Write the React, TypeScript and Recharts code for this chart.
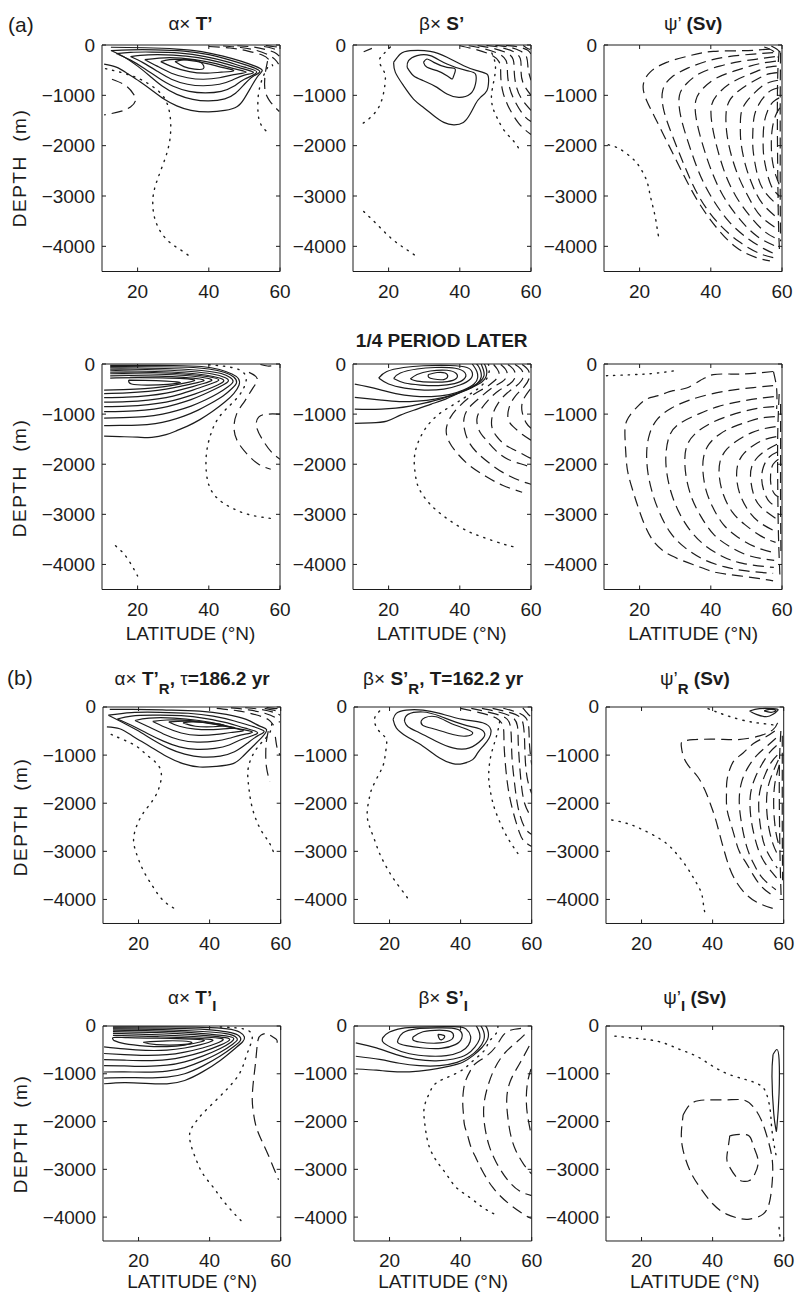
import React from "react";
import { ScatterChart, Scatter, XAxis, YAxis, ReferenceArea } from "recharts";

type Pt = [number, number]; // [latitude °N, depth m]

// ---------- (a) alpha x T' ----------
const tA_solid: Pt[][] = [
  [[10.6,-380],[14,-440],[17,-560],[20.5,-720],[24,-900],[27.5,-1080],[31,-1210],[35,-1300],[40,-1330],[44.5,-1300],[48,-1220],[50,-1060],[52,-820],[54,-600],[55,-500],[53,-420],[49,-320],[44,-220],[38,-130],[31,-80],[22,-55],[12.5,-45]],
  [[12.5,-110],[16,-230],[20,-420],[23.5,-620],[27,-820],[31,-980],[35.5,-1080],[40,-1110],[44.5,-1070],[47.5,-960],[50,-780],[52.5,-620],[54.3,-520],[51,-410],[46,-300],[40,-190],[33,-120],[25,-95],[18,-95],[12.5,-110]],
  [[14,-170],[18,-300],[22,-470],[26,-660],[30,-820],[34.5,-920],[39,-950],[43.5,-920],[47,-820],[50,-680],[53.5,-540],[50,-440],[45,-330],[39,-230],[32,-160],[24,-140],[18,-145],[14,-170]],
  [[18,-230],[21.5,-350],[25.5,-520],[29.5,-680],[34,-780],[38.5,-810],[43,-780],[46.5,-700],[50,-600],[52.5,-540],[48.5,-450],[43,-340],[37,-250],[30,-200],[23,-195],[18,-230]],
  [[22,-290],[25.5,-420],[29.5,-560],[34,-650],[38.5,-680],[43,-650],[47,-590],[50.5,-540],[47,-470],[42,-370],[36,-290],[29,-250],[22,-290]],
  [[26.5,-330],[30,-440],[34.5,-530],[39,-560],[43.5,-540],[47,-510],[44,-450],[39.5,-370],[34,-300],[29,-290],[26.5,-330]],
  [[30.5,-330],[33,-290],[36,-300],[38,-360],[38.5,-470],[36,-480],[33,-430],[30.5,-330]],
];
const tA_dash: Pt[][] = [
  [[12.8,-680],[16.5,-800],[18.8,-970],[19.4,-1110],[18,-1230],[15.2,-1320],[10.6,-1390]],
  [[40,-30],[46,-60],[51,-120],[55,-200],[57,-300],[58,-420]],
  [[44,-20],[49,-50],[53.5,-110],[56.5,-190],[58.5,-280],[59.6,-380]],
  [[48,-15],[52.5,-40],[56,-90],[58.5,-150],[59.8,-220]],
  [[55.5,-30],[57.5,-60],[59,-90],[59.8,-80]],
  [[56,-10],[58,-30],[59.5,-40]],
  [[56.5,-320],[55.8,-600],[55.8,-900],[57,-1100],[58.5,-1230],[59.8,-1320]],
];
const tA_dot: Pt[][] = [
  [[11,-470],[14,-520],[17.5,-590],[21,-690],[24.5,-840],[27.5,-1050],[29,-1350],[29.3,-1700],[28.6,-2050],[27,-2400],[25.2,-2750],[24.3,-3050],[24.6,-3380],[26.2,-3680],[29,-3920],[32.3,-4080],[35,-4220]],
  [[56.5,-450],[55.2,-640],[54,-950],[53.8,-1300],[54.2,-1500],[55.2,-1640],[57,-1760]],
];

// ---------- (a) beta x S' ----------
const sA_solid: Pt[][] = [
  [[21.4,-345],[23.3,-179],[26.1,-113],[31.7,-126],[36.4,-245],[41.1,-411],[44.8,-510],[47.6,-577],[48.1,-709],[47.6,-908],[45.8,-1041],[44.4,-1173],[42.9,-1372],[41,-1538],[38.3,-1585],[35.5,-1538],[32.7,-1406],[29.8,-1240],[27,-1074],[24.2,-809],[21.9,-544],[21.4,-345]],
  [[25.2,-444],[25.6,-312],[28,-212],[31.7,-212],[36.4,-378],[42,-510],[44.4,-577],[44.4,-776],[42.9,-975],[39.7,-1041],[36.4,-975],[33.6,-842],[29.8,-709],[27,-610],[25.2,-444]],
  [[29.8,-345],[30.8,-278],[32.7,-345],[36.4,-444],[38.7,-477],[38.3,-610],[37.8,-676],[36.4,-610],[33.6,-510],[30.8,-444],[29.8,-345]],
  [[13,-133],[15.3,-66]],
];
const sA_dash: Pt[][] = [
  [[40,-15],[44,-80],[48,-170],[51,-330],[51.5,-600],[52,-900],[53.5,-1200],[56.5,-1550],[60,-1780]],
  [[42.5,-15],[46.5,-70],[50.5,-160],[53,-310],[53.4,-570],[54,-850],[55.5,-1120],[58,-1400],[60,-1520]],
  [[45,-12],[49,-60],[53,-150],[55,-290],[55.3,-540],[55.8,-800],[57.2,-1050],[60,-1300]],
  [[47.5,-10],[51.5,-50],[55,-130],[57,-270],[57.2,-510],[57.8,-760],[60,-1000]],
  [[50,-8],[54,-45],[57,-120],[58.8,-250],[59.2,-480],[60,-700]],
  [[53,-8],[56.5,-40],[59,-100],[60,-180]],
  [[57.8,-10],[58.8,-60],[59.8,-90]],
];
const sA_dot: Pt[][] = [
  [[20.5,-40],[18.3,-200],[17.4,-330],[18.5,-500],[19.1,-650],[18.6,-950],[17.2,-1240],[14.9,-1440],[12.5,-1571]],
  [[13,-3308],[16.7,-3560],[20.5,-3826],[24.2,-4024],[28.4,-4223]],
  [[49,-160],[50,-400],[49.6,-700],[48.9,-1000],[49.3,-1250],[50.5,-1450],[52.5,-1700],[55,-1900],[57,-2102]],
];

// ---------- (a) psi' ----------
const psiA_dash: Pt[][] = [
  [[56.6,-80],[49.1,-113],[40.7,-126],[34.1,-212],[27.6,-345],[22.9,-544],[21,-809],[22,-1107],[24.3,-1439],[27.1,-1837],[29.9,-2234],[33.2,-2698],[36.9,-3163],[41.6,-3627],[47.2,-4024],[52.8,-4223],[56.6,-4290]],
  [[57.5,-150],[52,-180],[45,-230],[39,-320],[33.5,-460],[29,-640],[26.5,-900],[26.8,-1300],[29.2,-1800],[32.6,-2400],[36.6,-3000],[41.6,-3500],[47.8,-3900],[54,-4150],[58,-4230]],
  [[58,-230],[53,-280],[48,-330],[42.5,-420],[37,-560],[33.3,-760],[31.2,-1000],[31.5,-1400],[33.5,-1900],[36.5,-2500],[40,-3000],[45,-3500],[50.5,-3850],[55,-4050],[58,-4150]],
  [[58.3,-320],[54.5,-360],[51,-420],[46.5,-520],[41.5,-660],[38,-850],[35.8,-1100],[36,-1500],[37.8,-2000],[40.2,-2500],[43.5,-3000],[48,-3450],[53,-3800],[58.3,-4000]],
  [[58.5,-420],[55.5,-450],[53,-520],[49.5,-620],[45.5,-760],[42.3,-950],[40.2,-1200],[40.4,-1600],[41.8,-2050],[44,-2550],[47,-3000],[51,-3400],[55,-3700],[58.5,-3850]],
  [[58.7,-550],[56,-580],[53.5,-660],[50.5,-780],[47.5,-930],[45.3,-1100],[44.3,-1350],[44.5,-1750],[45.8,-2200],[48,-2650],[50.8,-3050],[54,-3400],[58.7,-3650]],
  [[58.9,-700],[56.5,-740],[54.2,-830],[52,-970],[50,-1130],[48.6,-1330],[48.3,-1600],[48.5,-1950],[49.8,-2400],[51.8,-2800],[54.5,-3150],[58.9,-3450]],
  [[59,-850],[57,-900],[55.2,-1010],[53.5,-1180],[52.2,-1420],[51.8,-1750],[51.9,-2100],[53,-2550],[55,-2900],[59,-3200]],
  [[59.2,-1050],[57.5,-1130],[56,-1300],[55,-1550],[54.7,-1850],[54.8,-2150],[55.5,-2450],[57,-2800],[59.2,-3000]],
  [[59.4,-1250],[58.2,-1400],[57.3,-1650],[57,-1950],[57.3,-2300],[58.3,-2600],[59.4,-2800]],
  [[59.2,-120],[58.8,-600],[58.7,-1500],[58.8,-2500],[59,-3500],[59.3,-4100]],
  [[59.6,-150],[59.5,-1000],[59.5,-2000],[59.5,-3000],[59.6,-3900]],
  [[55,-40],[57.5,-120],[59,-250]],
  [[57,-20],[58.5,-80],[59.6,-150]],
];
const psiA_dot: Pt[][] = [
  [[11.2,-1982],[13.6,-2035],[15.9,-2135],[18.2,-2267],[20.1,-2433],[22,-2698],[22.9,-2964],[23.8,-3229],[24.6,-3494],[25.2,-3759],[25.7,-3892]],
];

// ---------- 1/4 period later: T ----------
const tB_solid: Pt[][] = [
  [[10.6,-1440],[15,-1450],[20,-1460],[24,-1465],[28,-1410],[31,-1330],[34,-1240],[37.5,-1110],[41,-950],[44.5,-760],[47,-590],[48.5,-420],[48.3,-290],[46.5,-200],[43,-110],[38,-50],[30,-30],[20,-28],[12.3,-28]],
  [[10.6,-1230],[15,-1225],[20,-1220],[25,-1190],[29,-1130],[33,-1040],[37,-920],[40.5,-790],[44,-640],[46.5,-490],[47.8,-370],[47,-260],[44.5,-170],[40,-100],[34,-65],[25,-55],[16,-52],[12.3,-52]],
  [[10.6,-1080],[16,-1070],[22,-1050],[27,-1000],[31,-930],[35,-840],[39,-720],[42.5,-590],[45.3,-460],[46.8,-350],[46,-270],[43.5,-190],[38,-130],[30,-95],[20,-80],[12.3,-78]],
  [[10.6,-950],[16,-945],[22,-920],[27,-870],[31,-800],[35,-710],[38.5,-610],[41.5,-510],[44,-420],[45.5,-340],[44.5,-270],[41,-200],[35,-150],[27,-120],[18,-105],[12.3,-105]],
  [[10.6,-850],[17,-840],[23,-810],[28,-760],[32,-690],[36,-600],[39.5,-510],[42.5,-420],[44.2,-340],[43,-280],[39,-220],[33,-175],[25,-150],[16,-135],[12.3,-135]],
  [[10.6,-760],[17,-750],[23,-720],[28,-670],[32,-600],[35.5,-520],[38.8,-440],[41.5,-370],[42.8,-320],[41,-270],[36,-220],[29,-185],[20,-165],[12.3,-165]],
  [[10.6,-670],[17,-660],[23,-630],[28,-580],[32,-515],[35.5,-450],[38.5,-390],[40.8,-330],[39.5,-285],[35,-240],[28,-210],[19,-195],[12.3,-195]],
  [[10.6,-590],[17,-575],[23,-545],[28,-500],[32,-445],[35.5,-390],[38.5,-340],[37.5,-300],[33,-265],[26,-240],[18,-230],[12.3,-235]],
  [[10.6,-520],[16,-510],[22,-490],[27,-455],[31,-410],[34.5,-360],[36,-320],[33,-290],[27,-275],[20,-270],[14,-275],[12.3,-280]],
  [[17.5,-320],[18.3,-400],[23,-420],[28.5,-405],[32,-370],[28,-340],[22,-325],[17.5,-320]],
];
const tB_dash: Pt[][] = [
  [[51.3,-167],[53.6,-290],[52.2,-500],[50,-750],[47.8,-1000],[47.1,-1300],[48.2,-1560],[50.8,-1800],[54,-2000],[57.4,-2100]],
  [[60,-1000],[56.5,-1000],[54,-1060],[53.4,-1250],[55,-1500],[57.5,-1750],[60,-1900]],
  [[54.5,-10],[56.5,-40],[58.5,-30]],
];
const tB_dot: Pt[][] = [
  [[40,-15],[45,-50],[49,-130],[50.5,-280],[50,-450],[48.6,-620],[46,-820],[43,-1050],[40.8,-1350],[39.4,-1750],[39.3,-2150],[40.2,-2450],[42.4,-2680],[46.1,-2860],[50.8,-2996],[55.5,-3062],[58.8,-3095]],
  [[13.8,-3628],[15.8,-3760],[17.5,-3920],[19,-4100],[20,-4230]],
];

// ---------- 1/4 period later: S ----------
const sB_solid: Pt[][] = [
  [[31.2,-210],[33.6,-170],[35.9,-180],[36.6,-250],[35.5,-310],[32.7,-300],[31.2,-260],[31.2,-210]],
  [[26.1,-300],[28,-210],[31.7,-140],[36.4,-125],[39,-190],[39,-290],[36.5,-350],[32,-360],[28,-340],[26.1,-300]],
  [[21.4,-290],[23.3,-180],[28,-100],[33.1,-70],[38.7,-85],[41.5,-180],[41.2,-300],[38.5,-390],[34,-430],[29,-420],[24.5,-380],[21.4,-290]],
  [[17.2,-280],[19.5,-150],[24.2,-70],[29.8,-35],[37.3,-30],[42,-70],[43.5,-170],[43,-300],[40,-420],[35.5,-500],[30,-520],[24.5,-480],[20,-400],[17.2,-280]],
  [[10.5,-400],[14,-450],[18,-520],[22,-590],[27,-640],[32,-650],[37,-610],[41,-520],[44,-400],[45,-280],[44.8,-150],[44,-50],[43.5,0]],
  [[10.5,-666],[14,-690],[18,-720],[23,-750],[28,-740],[33,-700],[38,-620],[42,-520],[44.8,-400],[46,-260],[45.8,-130],[45.2,-40],[44.7,0]],
  [[10.5,-899],[14,-905],[18,-900],[22,-880],[26,-840],[30,-780],[34.5,-700],[39,-590],[43,-470],[45.7,-350],[46.8,-230],[46.6,-110],[46,0]],
  [[10.5,-1185],[15,-1175],[19.5,-1140],[23.3,-1020],[28,-900],[32,-800],[36,-700],[41,-540],[44.8,-420],[47,-300],[47.6,-170],[47.3,-60],[46.9,0]],
];
const sB_dash: Pt[][] = [
  [[49.5,-10],[50.5,-100],[51,-220],[49.5,-350],[47,-480],[43,-650],[39.8,-850],[37.5,-1050],[36.2,-1300],[37,-1550],[39.5,-1800],[43,-2040],[47.5,-2250],[52,-2420],[57.5,-2560]],
  [[51.5,-10],[52.8,-100],[53.3,-230],[51.8,-360],[49,-480],[45.5,-680],[42.5,-880],[41.2,-1080],[41.3,-1300],[42.5,-1550],[45,-1780],[48.5,-1990],[52.5,-2180],[57,-2330],[60,-2400]],
  [[53.5,-10],[55,-100],[55.6,-250],[54,-400],[51,-530],[48,-720],[45.8,-920],[44.8,-1100],[45.4,-1320],[47.2,-1500],[50,-1720],[53.5,-1900],[57.5,-2000],[60,-2060]],
  [[55.5,-10],[57.2,-100],[57.8,-260],[56,-430],[53.3,-580],[50.8,-780],[49.2,-1020],[49,-1250],[50.2,-1430],[52.5,-1600],[55.5,-1720],[59,-1850],[60,-1880]],
  [[57.5,-10],[59.2,-120],[59.5,-280],[58,-460],[55.5,-650],[53.8,-880],[53.6,-1100],[55,-1250],[57.5,-1400],[60,-1520]],
  [[59.8,-500],[57.8,-720],[57.5,-950],[58.7,-1180],[60,-1280]],
];
const sB_dot: Pt[][] = [
  [[48,0],[48.3,-120],[47.5,-300],[45.5,-470],[42,-640],[38.5,-800],[34.5,-980],[31.5,-1180],[29.4,-1398],[27.8,-1664],[27.2,-1930],[27.5,-2197],[28.4,-2463],[30.8,-2729],[33.6,-2929],[37.3,-3129],[42,-3329],[46.7,-3462],[52.3,-3595],[56,-3661]],
];

// ---------- 1/4 period later: psi ----------
const psiB_dash: Pt[][] = [
  [[57.5,-150],[53,-180],[49.1,-200],[45.3,-200],[40.7,-213],[38.3,-280],[36.9,-333],[33.2,-479],[29.4,-533],[25.2,-632],[22,-699],[19.2,-865],[16.4,-1132],[15.9,-1465],[16.2,-1864],[16.8,-2197],[18.4,-2596],[20.6,-3062],[23.8,-3528],[29,-3828],[36,-4028],[41.6,-4161],[48.1,-4227],[54.7,-4294],[57.5,-4327]],
  [[57.5,-430],[52,-470],[46,-520],[40,-600],[34,-720],[29,-880],[25,-1100],[22.8,-1400],[22,-1750],[22.3,-2150],[23.5,-2550],[25.5,-2950],[28.5,-3350],[32.5,-3650],[38,-3900],[44,-4050],[50,-4130],[57.5,-4180]],
  [[57.7,-650],[53,-690],[48,-750],[42,-850],[36.5,-1000],[31,-1200],[28.3,-1450],[27.4,-1800],[27.6,-2150],[28.8,-2550],[31,-2950],[34,-3300],[38,-3600],[43,-3830],[49,-3980],[57.7,-4060]],
  [[57.8,-850],[53.5,-880],[49,-950],[44,-1060],[39.5,-1200],[35.5,-1400],[33.2,-1650],[32.7,-1950],[33.2,-2300],[34.8,-2700],[37.3,-3050],[40.8,-3400],[45.5,-3650],[51,-3830],[57.8,-3920]],
  [[58,-1050],[54,-1080],[50.5,-1150],[46.5,-1250],[42.5,-1400],[39.5,-1600],[38,-1850],[37.8,-2150],[38.6,-2500],[40.5,-2850],[43.5,-3200],[47.5,-3450],[52.5,-3650],[58,-3770]],
  [[58.2,-1250],[55,-1290],[51.5,-1370],[48,-1500],[44.5,-1700],[42.6,-1950],[42.4,-2250],[43.5,-2600],[46,-2950],[49.5,-3200],[54,-3430],[58.2,-3560]],
  [[58.4,-1450],[55.5,-1500],[52.5,-1600],[49.5,-1770],[47.6,-2000],[47.3,-2300],[48.2,-2600],[50.3,-2900],[53.5,-3150],[58.4,-3350]],
  [[58.6,-1600],[56,-1700],[53.3,-1850],[51.5,-2050],[51.2,-2300],[52,-2600],[54,-2850],[58.6,-3100]],
  [[58.8,-1750],[56.5,-1850],[54.8,-2050],[54.3,-2300],[55,-2550],[56.5,-2750],[58.8,-2850]],
  [[59,-1900],[57.5,-2000],[56.8,-2200],[57,-2450],[58,-2600],[59,-2650]],
  [[57.6,-150],[58.5,-500],[58.5,-900]],
  [[59.2,-600],[58.8,-1400],[58.8,-2400],[59,-3400],[59.4,-4200]],
  [[59.6,-800],[59.6,-1800],[59.6,-2800],[59.7,-3800]],
];
const psiB_dot: Pt[][] = [
  [[10.7,-233],[15,-222],[20,-207],[25,-180],[30.8,-125]],
];

// ---------- (b) T_R ----------
const tC_solid: Pt[][] = [
  [[11.1,-411],[14.7,-453],[18.4,-606],[23.1,-815],[27.8,-1024],[32.5,-1177],[37.2,-1247],[41.9,-1233],[46.6,-1177],[49.4,-1024],[52.2,-815],[55,-606],[56,-467],[54.1,-397],[50.3,-258],[44.7,-153],[37.2,-84],[27.8,-63],[18.4,-49],[11.9,-49]],
  [[11.5,-170],[15,-300],[19.5,-480],[24,-680],[28.5,-860],[33,-980],[38,-1040],[43,-1020],[47,-930],[50.5,-760],[53.5,-600],[55.3,-500],[52,-400],[47,-290],[41,-190],[34,-130],[26,-110],[18,-115],[11.5,-170]],
  [[14,-250],[18,-380],[22.5,-550],[27,-710],[31.5,-830],[36.5,-880],[41.5,-860],[45.5,-790],[49.5,-660],[53.5,-540],[50,-440],[45,-330],[39,-240],[32,-180],[24,-170],[18,-190],[14,-250]],
  [[19,-280],[22.5,-400],[27,-560],[31.5,-680],[36.5,-730],[41.5,-710],[45.5,-650],[49,-580],[52,-520],[48,-450],[43,-360],[37,-280],[30,-230],[23,-230],[19,-280]],
  [[24,-300],[27.5,-420],[32,-540],[37,-590],[42,-570],[46,-530],[49.5,-490],[45.5,-420],[40.5,-340],[34.5,-280],[28,-270],[24,-300]],
  [[28.5,-310],[31.5,-400],[36,-460],[41,-470],[45,-450],[47,-430],[43,-380],[38,-320],[33,-295],[28.5,-310]],
  [[32.5,-330],[35,-310],[40,-330],[44,-380],[41,-410],[36,-400],[32.5,-330]],
];
const tC_dash: Pt[][] = [
  [[42,-30],[48,-80],[53,-160],[56.5,-260],[58,-380]],
  [[46,-20],[51,-60],[55.5,-130],[58.5,-220],[59.7,-320]],
  [[50,-15],[54.5,-50],[58,-110],[59.8,-170]],
  [[55.5,-30],[57.5,-60],[59,-80]],
  [[56,-10],[58,-30],[59.5,-30]],
  [[56.5,-500],[56,-700],[55.8,-950],[56,-1250],[56.9,-1550]],
  [[58.5,-620],[59,-850],[59.8,-1000]],
];
const tC_dot: Pt[][] = [
  [[12.3,-571],[15.6,-676],[19.4,-815],[22.2,-989],[25,-1163],[26.4,-1372],[25.9,-1651],[24.1,-1930],[21.3,-2208],[19.4,-2487],[18.6,-2766],[19.4,-3044],[21.3,-3392],[24.1,-3741],[26.9,-4019],[30.2,-4193]],
  [[57.5,-350],[56.8,-550],[54.5,-750],[52.2,-989],[50.8,-1303],[51,-1651],[51.7,-1999],[53.1,-2347],[55,-2626],[56.9,-2835],[58.3,-3079]],
];

// ---------- (b) S_R ----------
const sC_solid: Pt[][] = [
  [[21,-258],[21.9,-132],[24.7,-63],[29.4,-63],[34.1,-132],[40.6,-258],[46.2,-327],[48.5,-470],[48,-650],[46.5,-800],[44.8,-954],[43.4,-1094],[40.6,-1177],[37.8,-1177],[34.1,-1059],[29.4,-815],[24.7,-606],[21.9,-432],[21,-258]],
  [[24.2,-293],[25.2,-153],[29.4,-104],[34.1,-188],[40.6,-362],[45.3,-453],[46.8,-560],[46,-676],[42.5,-850],[37.8,-850],[33.1,-711],[28.4,-536],[25.2,-411],[24.2,-293]],
  [[28.9,-293],[29.9,-223],[33.1,-202],[36.9,-327],[40.6,-432],[43.4,-536],[41.5,-606],[37.8,-571],[33.1,-467],[29.4,-383],[28.9,-293]],
];
const sC_dash: Pt[][] = [
  [[40,-30],[45,-110],[50,-230],[52,-420],[52.2,-700],[52.5,-1100],[53.2,-1600],[54.5,-2100],[56.5,-2600],[58,-2800],[60,-2900]],
  [[43,-30],[48,-110],[52.5,-220],[54,-400],[54.3,-700],[54.5,-1100],[55.2,-1600],[56.2,-2100],[58,-2500],[60,-2650]],
  [[46,-30],[50.5,-100],[54.5,-210],[56,-400],[56.2,-700],[56.5,-1100],[57,-1550],[58,-2000],[60,-2300]],
  [[49,-30],[53,-100],[56.5,-200],[57.7,-400],[58,-700],[58.2,-1100],[58.8,-1500],[60,-1800]],
  [[52,-25],[55.5,-100],[58.3,-220],[59.2,-450],[59.4,-800],[60,-1200]],
  [[57.5,-20],[59,-150],[59.8,-200]],
];
const sC_dot: Pt[][] = [
  [[17.2,-84],[15.8,-237],[16.3,-418],[17.7,-550],[19.1,-676],[19,-885],[18.4,-1163],[17.2,-1372],[15.3,-1651],[14.4,-1860],[13.7,-2208],[14.4,-2487],[15.8,-2766],[17.2,-3044],[19.1,-3323],[21.4,-3601],[24.2,-3880],[25.8,-4054]],
  [[51,-300],[50.3,-550],[49.3,-800],[48.3,-1094],[47.9,-1442],[48.3,-1721],[49.1,-1999],[50.4,-2278],[52.3,-2591],[54.2,-2835],[56.1,-3044]],
];

// ---------- (b) psi_R ----------
const psiC_solid: Pt[][] = [
  [[50.4,-84],[52.3,-153],[55.1,-202],[57,-153],[58.4,-63],[57,-35],[53.2,-35],[50.4,-84]],
  [[54.5,-80],[56.5,-110],[57.8,-70],[56,-50],[54.5,-80]],
];
const psiC_dash: Pt[][] = [
  [[58.3,-330],[57,-470],[53.2,-600],[47.2,-676],[41,-670],[34.5,-680],[31.5,-720],[31.2,-820],[31.8,-1030],[33.5,-1250],[35.8,-1450],[37.8,-1720],[39.3,-2000],[40.7,-2300],[42,-2650],[43.3,-3000],[44.8,-3350],[46.8,-3650],[49.5,-3900],[53,-4080],[57.5,-4200]],
  [[57.5,-500],[55,-620],[51.5,-760],[48.5,-960],[46.2,-1100],[44.8,-1300],[44,-1550],[43.9,-1800],[44,-2100],[45,-2400],[46.2,-2700],[47.5,-3000],[49.5,-3250],[51.5,-3500],[54,-3750],[57.5,-3950]],
  [[57.8,-650],[55.5,-800],[52.5,-1000],[50,-1250],[48.2,-1550],[47.5,-1900],[47.8,-2250],[48.6,-2600],[49.8,-2950],[51.5,-3250],[54,-3550],[57.8,-3800]],
  [[58,-800],[56,-950],[53.8,-1200],[51.8,-1500],[50.6,-1850],[50.7,-2250],[51.5,-2600],[52.8,-2950],[54.8,-3250],[58,-3550]],
  [[58.2,-1000],[56.5,-1150],[54.8,-1400],[53.3,-1750],[53,-2150],[53.6,-2550],[55,-2950],[58.2,-3350]],
  [[58.5,-1100],[57,-1350],[55.5,-1700],[55.2,-2100],[55.8,-2500],[57,-2850],[58.5,-3100]],
  [[58.8,-1200],[57.5,-1600],[57.2,-2100],[57.8,-2600],[58.8,-2900]],
  [[59.2,-500],[58.8,-1200],[58.8,-2200],[59,-3200],[59.3,-4000]],
  [[59.6,-600],[59.6,-1500],[59.6,-2500],[59.7,-3600]],
];
const psiC_dot: Pt[][] = [
  [[38.7,-35],[41,-100],[43,-153],[47.6,-258],[52.3,-327],[56.1,-362],[58.5,-390]],
  [[11.6,-2348],[15.8,-2417],[19.5,-2522],[23.3,-2661],[27,-2835],[29.8,-3044],[32.7,-3323],[35,-3601],[36.9,-3880],[37.5,-4159],[38,-4298]],
];

// ---------- (b) T_I ----------
const tD_solid: Pt[][] = [
  [[10.3,-1209],[16,-1185],[22,-1200],[28,-1210],[33,-1140],[38,-960],[43,-720],[47,-480],[49.3,-330],[49.8,-230],[48.5,-130],[45,-60],[38,-28],[28,-20],[18,-20],[12.8,-20]],
  [[10.3,-1090],[16,-1080],[22,-1085],[28,-1070],[33,-1000],[38,-840],[43,-630],[47,-420],[48.7,-300],[48.3,-210],[46,-140],[41,-85],[33,-55],[22,-42],[12.8,-40]],
  [[10.3,-963],[16,-960],[22,-965],[28,-945],[33,-870],[38,-730],[43,-550],[46.5,-380],[47.8,-290],[47.2,-220],[44.5,-160],[38,-115],[29,-80],[20,-65],[12.8,-62]],
  [[10.3,-830],[16,-835],[22,-845],[28,-820],[33,-750],[38,-630],[43,-470],[46,-340],[46.8,-270],[45.5,-220],[40,-170],[33,-130],[24,-100],[12.8,-88]],
  [[10.3,-703],[16,-715],[22,-725],[28,-705],[33,-640],[38,-540],[43,-400],[45.5,-300],[44.5,-245],[39,-200],[32,-165],[23,-135],[12.8,-118]],
  [[10.3,-576],[16,-600],[22,-615],[28,-600],[33,-545],[38,-460],[42,-360],[43.8,-290],[42.5,-255],[37,-225],[29,-195],[20,-170],[12.8,-155]],
  [[10.3,-436],[16,-480],[22,-510],[28,-505],[33,-460],[37.5,-390],[40.8,-310],[39.5,-275],[34,-250],[26,-225],[18,-205],[12.8,-195]],
  [[13,-300],[16,-370],[22,-420],[28,-430],[33,-400],[37,-340],[38.3,-295],[33,-270],[25,-255],[17,-245],[13,-240],[13,-300]],
  [[21.3,-340],[25,-390],[33,-385],[34.4,-330],[28,-310],[21.3,-340]],
];
const tD_dash: Pt[][] = [
  [[59,-350],[58.8,-281],[57.4,-211],[56,-155],[54.5,-190],[53.6,-300],[53.1,-633],[52.7,-914],[52.2,-1250],[52,-1547],[52.3,-1800],[53.1,-2109],[54.6,-2390],[56.5,-2700],[58.3,-3023],[59.4,-3220]],
];
const tD_dot: Pt[][] = [
  [[43,-20],[47.5,-40],[51,-100],[52,-250],[51.2,-450],[50,-700],[48.5,-984],[45.6,-1265],[41.9,-1547],[38.1,-1828],[35.8,-2039],[34.4,-2250],[34.9,-2531],[36.3,-2812],[38.1,-3093],[41,-3374],[43.8,-3656],[47.5,-3972],[49.9,-4148]],
];

// ---------- (b) S_I ----------
const sD_solid: Pt[][] = [
  [[33.6,-176],[35,-190],[35.5,-230],[34.6,-290],[33.9,-250],[33.6,-176]],
  [[26.6,-230],[29.4,-120],[34.1,-85],[37.3,-120],[38,-220],[36.8,-310],[33.1,-360],[28.4,-335],[26.6,-290],[26.6,-230]],
  [[22.4,-281],[23.8,-141],[27.5,-60],[33.1,-40],[37.5,-45],[40,-110],[40.3,-260],[38.5,-390],[34.5,-470],[29.4,-460],[24.7,-410],[22.4,-352],[22.4,-281]],
  [[18.1,-246],[20,-127],[23.5,-50],[28,-22],[38,-15],[41.5,-60],[42.8,-211],[42.2,-400],[40,-540],[36,-620],[31.2,-630],[25.6,-580],[20.5,-450],[18.1,-330],[18.1,-246]],
  [[10.5,-352],[16.3,-457],[21.9,-600],[27.5,-700],[33.1,-730],[38,-690],[41.8,-590],[44,-440],[45.3,-281],[45.3,-141],[44.8,-49],[44.4,0]],
  [[10.5,-633],[17.2,-700],[22.8,-780],[28.4,-830],[34.1,-830],[39,-760],[42.5,-640],[45,-480],[46.5,-300],[46.6,-150],[46.1,-45],[45.7,0]],
  [[10.5,-900],[16.3,-925],[20,-950],[25.6,-960],[31.2,-920],[36.9,-840],[40.6,-760],[43.5,-620],[46,-450],[47.6,-280],[47.8,-140],[47.4,-40],[47,0]],
];
const sD_dash: Pt[][] = [
  [[57,-50],[54,-90],[51.8,-211],[50,-422],[47.2,-633],[44.4,-773],[42.9,-914],[41.5,-1125],[40.8,-1350],[40.6,-1617],[40.8,-1850],[41.1,-2074],[42,-2300],[42.9,-2531],[44.3,-2760],[45.8,-2988],[49,-3374],[53.7,-3726],[58.4,-3972],[60,-4030]],
  [[58,-180],[56,-320],[52.5,-560],[49.5,-900],[47.5,-1300],[46.5,-1700],[46.8,-2100],[48,-2500],[50,-2850],[53,-3200],[56.5,-3450],[60,-3550]],
  [[59.3,-420],[56.5,-800],[54,-1150],[53,-1500],[53.2,-1850],[54,-2250],[55.5,-2600],[57.8,-2900],[60,-3100]],
  [[59.8,-900],[58.8,-1200],[58.5,-1600],[59,-1950],[59.8,-2250]],
];
const sD_dot: Pt[][] = [
  [[50.5,0],[50,-155],[48.1,-316],[47.2,-457],[45.5,-600],[43,-760],[40.6,-914],[36.9,-1055],[33.1,-1195],[31.2,-1406],[29.8,-1687],[29.8,-1968],[30.3,-2250],[31.2,-2531],[33.1,-2812],[35.9,-3093],[38.7,-3374],[42.5,-3585],[46.2,-3796],[49.5,-3937]],
];

// ---------- (b) psi_I ----------
const psiD_solid: Pt[][] = [
  [[57,-598],[58.1,-492],[58.7,-703],[58.7,-1406],[58.1,-2109],[57.8,-2160],[57.2,-1828],[56.7,-1055],[57,-598]],
];
const psiD_dash: Pt[][] = [
  [[31.7,-1863],[34.1,-1617],[38.3,-1547],[43.9,-1547],[48.6,-1547],[51.4,-1687],[53.7,-1968],[55.6,-2390],[56.8,-2812],[56.8,-3234],[56.1,-3656],[54.2,-3937],[50.4,-4042],[47.6,-4028],[43.9,-3937],[40.1,-3726],[36.4,-3374],[33.6,-3023],[31.7,-2601],[31.2,-2250],[31.7,-1863]],
  [[44.8,-2320],[45.7,-2285],[49.9,-2285],[51.4,-2496],[52.8,-2812],[51.9,-3093],[50.4,-3234],[48.5,-3250],[46.7,-3164],[44.3,-2882],[44.1,-2671],[44.8,-2320]],
];
const psiD_dot: Pt[][] = [
  [[12.5,-211],[16.7,-246],[21.4,-281],[26.1,-352],[30.8,-492],[35.5,-633],[40.1,-844],[44.8,-1019],[49.5,-1125],[53.2,-1230],[55.1,-1406],[56.2,-1758],[56.6,-2109],[57.4,-2531],[58.2,-2812]],
  [[58.7,-4218],[59,-4429]],
];

const latTicks = [20, 40, 60];
const depthTicks = [-4000, -3000, -2000, -1000, 0];

const FONT = '"Liberation Sans", Arial, Helvetica, sans-serif';
const INK = "#1c1c1c";
const FS = 19;

const Y_AXIS_W = 66;
const M_TOP = 16;
const M_RIGHT = 20;
const X_AXIS_H = 40;

const lineSolid = { stroke: INK, strokeWidth: 1.2 };
const lineDash = { stroke: INK, strokeWidth: 1.2, strokeDasharray: "11 6" };
const lineDot = { stroke: INK, strokeWidth: 1.4, strokeDasharray: "1.3 6", strokeLinecap: "round" as const };

// plot boxes per row
const rowTop = [44.5, 363.5, 707, 1026];
const rowH = [226.5, 225.5, 216.5, 215];
const rowLeft = [
  [101.5, 352.7, 604.2],
  [101.5, 352.7, 604.2],
  [103.3, 354.3, 606],
  [103.3, 354.3, 606],
];
const rowW = [178, 178, 177.7, 177.7];
const rowTitleY = [23, 340, 678, 997];
const depthLabelShift = [10, 2, 2, 0];
const latLabelGap = [0, 44, 0, 40];

const noDot = () => <g />;

const Sub = ({ children, drop }: { children: React.ReactNode; drop: number }) => (
  <span style={{ position: "relative", top: drop, fontSize: 15, fontWeight: 700 }}>{children}</span>
);

type PanelDef = {
  solid?: Pt[][];
  dashed?: Pt[][];
  dotted?: Pt[][];
  title?: React.ReactNode;
};

const panels: PanelDef[][] = [
  [
    { solid: tA_solid, dashed: tA_dash, dotted: tA_dot, title: <>α× <b>T’</b></> },
    { solid: sA_solid, dashed: sA_dash, dotted: sA_dot, title: <>β× <b>S’</b></> },
    { dashed: psiA_dash, dotted: psiA_dot, title: <>ψ’ <b>(Sv)</b></> },
  ],
  [
    { solid: tB_solid, dashed: tB_dash, dotted: tB_dot },
    { solid: sB_solid, dashed: sB_dash, dotted: sB_dot, title: <b>1/4 PERIOD LATER</b> },
    { dashed: psiB_dash, dotted: psiB_dot },
  ],
  [
    { solid: tC_solid, dashed: tC_dash, dotted: tC_dot, title: <>α× <b>T’<Sub drop={9}>R</Sub>,</b> τ<b>=186.2 yr</b></> },
    { solid: sC_solid, dashed: sC_dash, dotted: sC_dot, title: <>β× <b>S’<Sub drop={9}>R</Sub>, T=162.2 yr</b></> },
    { solid: psiC_solid, dashed: psiC_dash, dotted: psiC_dot, title: <>ψ’<Sub drop={9}>R</Sub> <b>(Sv)</b></> },
  ],
  [
    { solid: tD_solid, dashed: tD_dash, dotted: tD_dot, title: <>α× <b>T’<Sub drop={7}>I</Sub></b></> },
    { solid: sD_solid, dashed: sD_dash, dotted: sD_dot, title: <>β× <b>S’<Sub drop={7}>I</Sub></b></> },
    { solid: psiD_solid, dashed: psiD_dash, dotted: psiD_dot, title: <>ψ’<Sub drop={7}>I</Sub> <b>(Sv)</b></> },
  ],
];

const toXY = (c: Pt[]) => c.map(([x, y]) => ({ x, y }));

function ContourPanel({ def, w, h }: { def: PanelDef; w: number; h: number }) {
  const top = M_TOP;
  const bottom = M_TOP + h;
  const left = Y_AXIS_W;
  const right = Y_AXIS_W + w;

  const XTick = (props: any) => {
    const { x, payload } = props;
    return (
      <g>
        <line x1={x} x2={x} y1={bottom} y2={bottom - 4} stroke={INK} />
        <line x1={x} x2={x} y1={top} y2={top + 4} stroke={INK} />
        <text x={x} y={bottom + 20} textAnchor="middle" dominantBaseline="central" fontSize={FS} fontFamily={FONT} fill={INK}>
          {payload.value}
        </text>
      </g>
    );
  };
  const YTick = (props: any) => {
    const { y, payload } = props;
    const v = payload.value as number;
    return (
      <g>
        <line x1={left} x2={left + 4} y1={y} y2={y} stroke={INK} />
        <line x1={right} x2={right - 4} y1={y} y2={y} stroke={INK} />
        <text x={left - 7} y={y} textAnchor="end" dominantBaseline="central" fontSize={FS} fontFamily={FONT} fill={INK}>
          {v < 0 ? `−${Math.abs(v)}` : `${v}`}
        </text>
      </g>
    );
  };

  const groups: [Pt[][] | undefined, object, string][] = [
    [def.dotted, lineDot, "p"],
    [def.dashed, lineDash, "d"],
    [def.solid, lineSolid, "s"],
  ];

  return (
    <ScatterChart width={Y_AXIS_W + w + M_RIGHT} height={M_TOP + h + X_AXIS_H} margin={{ top: M_TOP, right: M_RIGHT, bottom: 0, left: 0 }}>
      <XAxis type="number" dataKey="x" domain={[10, 60]} ticks={latTicks} interval={0} allowDataOverflow axisLine={false} tickLine={false} tick={XTick} height={X_AXIS_H} />
      <YAxis type="number" dataKey="y" domain={[-4500, 0]} ticks={depthTicks} interval={0} allowDataOverflow axisLine={false} tickLine={false} tick={YTick} width={Y_AXIS_W} />
      {groups.map(([set, style, key]) =>
        (set || []).map((c, i) => (
          <Scatter
            key={key + i}
            data={toXY(c)}
            fill="none"
            line={style}
            lineType="joint"
            lineJointType="natural"
            shape={noDot}
            isAnimationActive={false}
          />
        ))
      )}
      <ReferenceArea x1={10} x2={60} y1={-4500} y2={0} fill="none" stroke={INK} strokeWidth={1} ifOverflow="visible" />
    </ScatterChart>
  );
}

const textBase: React.CSSProperties = {
  position: "absolute",
  fontFamily: FONT,
  fontSize: FS,
  color: INK,
  whiteSpace: "nowrap",
  lineHeight: 1,
};

export default function App() {
  return (
    <div style={{ position: "absolute", left: 0, top: 0, width: 796, height: 1293, background: "#fff", overflow: "hidden" }}>
      <div style={{ ...textBase, fontSize: 21, left: 8, top: 14 }}>(a)</div>
      <div style={{ ...textBase, fontSize: 21, left: 7, top: 667 }}>(b)</div>

      {panels.map((row, r) =>
        row.map((def, c) => {
          const pl = rowLeft[r][c];
          const w = rowW[r];
          const h = rowH[r];
          return (
            <React.Fragment key={`${r}-${c}`}>
              <div style={{ position: "absolute", left: pl - Y_AXIS_W, top: rowTop[r] - M_TOP }}>
                <ContourPanel def={def} w={w} h={h} />
              </div>
              {def.title && (
                <div style={{ ...textBase, left: pl + w / 2, top: rowTitleY[r], transform: "translate(-50%, -50%)" }}>
                  {def.title}
                </div>
              )}
            </React.Fragment>
          );
        })
      )}

      {rowTop.map((t, r) => (
        <div
          key={"ylab" + r}
          style={{ ...textBase, left: r < 2 ? 18.5 : 20, top: t + rowH[r] / 2 + depthLabelShift[r], transform: "translate(-50%, -50%) rotate(-90deg)", letterSpacing: 1.5 }}
        >
          DEPTH &nbsp;(m)
        </div>
      ))}

      {[1, 3].map((r) =>
        rowLeft[r].map((pl, c) => (
          <div key={`xlab${r}-${c}`} style={{ ...textBase, left: pl + rowW[r] / 2, top: rowTop[r] + rowH[r] + latLabelGap[r], transform: "translate(-50%, -50%)" }}>
            LATITUDE (°N)
          </div>
        ))
      )}
    </div>
  );
}
